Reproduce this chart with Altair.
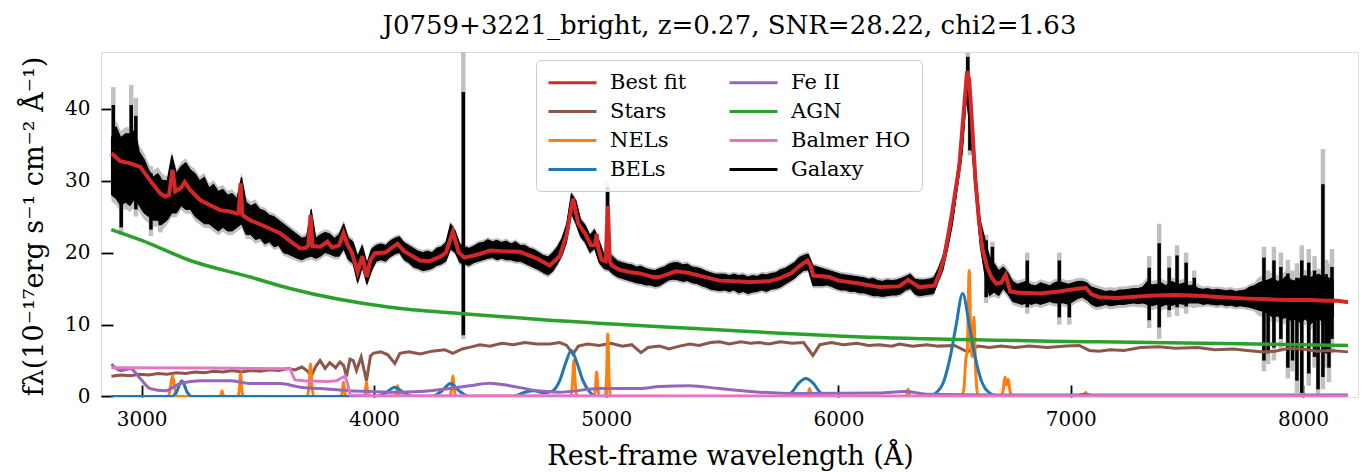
import altair as alt
import numpy as np
import pandas as pd

FONT = "DejaVu Serif"
TITLE = "J0759+3221_bright, z=0.27, SNR=28.22, chi2=1.63"
X_TITLE = "Rest-frame wavelength (Å)"
Y_TITLE = "fλ(10⁻¹⁷erg s⁻¹ cm⁻² Å⁻¹)"
X_TICKS = [3000, 4000, 5000, 6000, 7000, 8000]
Y_TICKS = [0, 10, 20, 30, 40]

COMPONENTS = ["Best fit", "Stars", "NELs", "BELs", "Fe II", "AGN", "Balmer HO", "Galaxy"]
COLORS = ["#d62728", "#8c564b", "#ff7f0e", "#1f77b4", "#9467bd", "#2ca02c", "#e377c2", "#000000"]

# ---- observed spectrum (Galaxy): upper / lower edge of the noisy trace, 20 A steps from 2870 A ----
GAL_START = 2870
GAL_STEP = 20
GAL_HI = [
    36.0, 37.5, 36.0, 36.5, 36.5, 37.0, 34.0, 33.0, 31.5, 30.5,
    31.0, 30.0, 30.0, 33.5, 31.0, 32.0, 32.5, 31.5, 31.0, 30.0,
    30.5, 29.0, 29.5, 28.5, 28.8, 28.0, 28.2, 27.5, 30.5, 27.0,
    26.5, 26.8, 26.0, 25.8, 25.2, 25.0, 24.5, 24.0, 23.5, 23.0,
    22.5, 22.0, 22.2, 26.0, 22.0, 22.5, 22.8, 22.6, 22.0, 22.5,
    24.0, 22.0, 21.5, 19.5, 21.0, 18.5, 20.5, 21.0, 21.2, 21.0,
    21.6, 22.0, 22.2, 21.4, 21.0, 20.6, 20.2, 20.0, 20.2, 20.0,
    20.6, 20.8, 21.4, 24.0, 23.0, 21.2, 20.8, 20.6, 20.9, 21.3,
    21.4, 21.8, 21.5, 21.7, 21.4, 21.6, 21.2, 21.5, 21.0, 21.0,
    20.6, 20.4, 20.0, 19.6, 19.4, 20.0, 20.8, 22.0, 24.0, 28.2,
    27.2, 24.6, 23.8, 22.4, 23.2, 21.6, 19.8, 20.0, 19.4, 18.8,
    18.6, 18.4, 18.3, 18.0, 18.1, 17.8, 17.6, 17.5, 17.8, 18.0,
    18.4, 18.6, 18.6, 18.3, 18.4, 18.0, 17.9, 17.7, 17.4, 17.2,
    17.0, 17.0, 17.0, 16.8, 17.0, 16.8, 16.9, 16.6, 16.8, 16.7,
    17.0, 16.9, 17.1, 17.2, 17.6, 17.8, 18.2, 18.6, 19.3, 19.6,
    19.8, 18.2, 18.0, 17.8, 17.6, 17.4, 17.2, 17.0, 16.9, 16.8,
    16.7, 16.6, 16.5, 16.3, 16.4, 16.1, 16.0, 16.2, 16.1, 16.2,
    16.4, 16.7, 17.0, 16.3, 16.2, 16.2, 16.3, 16.5, 17.8, 19.5,
    22.5, 26.0, 30.8, 35.5, 44.5, 41.0, 31.5, 24.5, 22.0, 19.5,
    18.5, 17.5, 18.0, 17.2, 16.0, 15.6, 15.8, 16.0, 15.5, 15.4,
    15.8, 15.6, 15.4, 15.8, 16.0, 15.8, 15.6, 15.8, 16.0, 16.0,
    15.8, 15.2, 15.0, 14.8, 14.6, 14.7, 14.6, 14.8, 14.8, 14.9,
    15.0, 15.0, 15.2, 16.0, 15.5, 15.6, 15.8, 15.4, 16.0, 15.8,
    15.6, 15.8, 15.4, 15.5, 15.0, 14.9, 15.0, 14.8, 14.9, 14.8,
    14.7, 14.8, 14.6, 14.7, 14.8, 15.2, 15.4, 15.8, 16.0, 16.2,
    16.5, 16.0, 16.2, 16.8, 16.2, 16.0, 16.5, 16.8, 16.5, 16.8,
    17.0, 16.5, 16.5, 16.0,
]
GAL_LO = [
    28.0, 27.5, 26.5, 27.0, 26.5, 27.5, 26.5, 25.5, 25.0, 24.5,
    24.5, 24.0, 24.5, 25.5, 25.5, 26.5, 26.0, 26.0, 25.0, 24.5,
    24.0, 24.0, 23.5, 23.0, 23.5, 23.0, 23.0, 23.5, 24.0, 22.5,
    22.5, 21.8, 22.0, 21.2, 21.5, 20.8, 21.0, 20.0, 19.8, 19.5,
    19.2, 19.0, 19.3, 19.5, 19.2, 19.5, 20.0, 19.8, 19.5, 19.5,
    20.5, 19.0, 18.5, 15.8, 18.0, 15.6, 17.5, 18.8, 19.0, 18.8,
    19.4, 19.8, 20.0, 19.0, 18.6, 18.0, 17.8, 17.5, 17.6, 17.8,
    18.2, 18.4, 18.8, 20.5, 20.0, 18.6, 18.4, 18.2, 18.6, 18.8,
    19.0, 19.2, 19.3, 19.0, 19.2, 19.0, 19.0, 18.8, 18.8, 18.5,
    18.2, 17.9, 17.6, 17.2, 16.9, 17.4, 18.4, 19.6, 21.5, 25.5,
    24.0, 22.2, 21.4, 20.0, 20.6, 18.6, 17.8, 17.6, 17.0, 16.6,
    16.4, 16.2, 16.0, 15.8, 15.7, 15.5, 15.5, 15.3, 15.4, 15.8,
    16.2, 16.3, 16.2, 16.0, 16.1, 15.8, 15.7, 15.4, 15.2, 14.9,
    14.8, 14.7, 14.8, 14.6, 14.8, 14.4, 14.6, 14.3, 14.5, 14.6,
    14.8, 14.6, 14.9, 15.0, 15.2, 15.6, 16.0, 16.4, 17.0, 17.5,
    17.6, 15.4, 15.4, 15.4, 15.5, 15.3, 15.0, 14.8, 14.8, 14.6,
    14.6, 14.4, 14.4, 14.2, 14.0, 14.0, 13.9, 14.0, 14.1, 14.1,
    14.3, 14.8, 15.0, 14.2, 14.0, 14.1, 14.2, 14.3, 16.0, 17.6,
    20.5, 23.8, 28.5, 33.0, 41.5, 36.5, 28.5, 21.0, 17.0, 14.0,
    14.5, 14.0, 15.0, 14.2, 13.2, 13.0, 12.8, 13.0, 12.8, 13.0,
    12.8, 13.0, 13.2, 13.0, 13.0, 13.0, 12.8, 13.2, 13.6, 13.8,
    13.4, 12.8, 12.5, 12.6, 12.8, 12.6, 12.7, 12.8, 12.8, 12.9,
    13.0, 12.9, 13.0, 12.8, 12.6, 12.8, 12.5, 12.8, 12.6, 12.8,
    12.9, 12.8, 13.0, 13.0, 13.0, 12.8, 12.9, 12.8, 12.7, 12.8,
    12.6, 12.7, 12.5, 12.6, 12.5, 12.4, 12.2, 12.0, 11.8, 11.5,
    11.0, 11.2, 10.8, 11.0, 10.5, 10.8, 10.2, 10.8, 10.0, 10.5,
    10.8, 10.2, 10.8, 11.0,
]
# flux uncertainty level per wavelength range (lower edges)
ERR_EDGES = [2870, 3100, 3500, 4000, 6450, 7300, 7560, 7800]
ERR_LEVELS = [0.9, 0.6, 0.45, 0.35, 0.5, 0.6, 0.4, 0.8]
# isolated galaxy pixels far off the trace: wave, flux low, flux high, error-bar low, error-bar high
SPIKES = [
    (2878, 28.5, 40.5, 27.5, 43.0), (2912, 23.5, 34.0, 22.5, 35.0),
    (2955, 27.0, 40.5, 26.0, 43.3), (2975, 26.0, 39.0, 25.0, 41.5),
    (3040, 23.2, 31.0, 22.3, 32.0), (3080, 23.8, 30.0, 22.8, 31.0),
    (4385, 8.5, 42.3, 8.0, 49.0), (5006, 18.0, 29.1, 17.5, 29.8),
    (6557, 42.0, 47.2, 41.0, 47.8), (6566, 34.2, 40.0, 33.5, 40.8),
    (6636, 13.8, 21.7, 13.0, 22.5), (6663, 14.5, 20.8, 13.8, 21.5),
    (6813, 12.4, 18.9, 11.5, 20.0), (6951, 11.0, 18.9, 10.0, 20.0),
    (6994, 11.0, 15.5, 10.0, 16.2), (7338, 10.6, 17.9, 9.5, 19.5),
    (7381, 9.6, 21.3, 8.0, 24.0), (7424, 12.0, 17.9, 11.0, 19.5),
    (7458, 12.4, 19.6, 11.2, 21.0), (7497, 12.5, 18.6, 11.5, 20.0),
    (7532, 13.0, 16.5, 12.3, 17.5), (7832, 5.0, 19.3, 3.5, 20.8),
    (7850, 6.0, 15.5, 4.5, 17.5), (7875, 6.8, 18.9, 5.0, 20.8),
    (7905, 8.0, 18.0, 6.5, 20.0), (7935, 4.0, 17.1, 2.5, 19.0),
    (7955, 5.0, 15.8, 3.5, 17.5), (7974, 2.2, 16.5, 0.5, 18.5),
    (7995, 0.5, 18.9, -0.5, 21.0), (8025, 3.2, 18.6, 1.5, 20.5),
    (8050, 5.5, 17.5, 4.0, 19.5), (8065, 1.0, 15.0, -0.5, 17.0),
    (8086, 2.7, 29.5, 1.0, 34.4), (8100, 6.0, 17.0, 4.0, 19.0),
    (8112, 4.0, 16.5, 2.0, 18.5), (8125, 8.0, 18.0, 6.0, 20.5),
]

# ---- best fit ----
FIT = [
    (2870, 33.8), (2908, 32.7), (2951, 32.4), (2994, 31.9), (3037, 30.0), (3080, 28.2),
    (3101, 27.8), (3118, 28.0), (3133, 31.5), (3145, 28.5), (3170, 29.0), (3185, 29.8),
    (3209, 28.7), (3252, 27.3), (3300, 26.5), (3338, 25.9), (3380, 25.7), (3411, 25.4),
    (3418, 25.5), (3426, 29.6), (3434, 25.2), (3467, 24.5), (3520, 23.8), (3560, 23.2),
    (3596, 22.7), (3640, 21.6), (3682, 20.6), (3705, 20.6), (3718, 21.0), (3727, 25.2),
    (3736, 20.9), (3768, 20.8), (3800, 21.5), (3820, 20.7), (3850, 21.0), (3869, 22.7),
    (3885, 21.2), (3905, 20.0), (3930, 17.3), (3950, 19.5), (3969, 16.6), (3985, 19.0),
    (4004, 19.9), (4050, 20.0), (4082, 20.8), (4102, 21.2), (4130, 20.2), (4198, 18.9),
    (4240, 18.8), (4284, 19.4), (4310, 20.0), (4340, 22.9), (4365, 20.0), (4390, 19.3),
    (4456, 19.8), (4500, 20.3), (4550, 20.2), (4628, 20.1), (4700, 19.2), (4757, 18.2),
    (4800, 19.5), (4830, 22.5), (4857, 27.5), (4880, 24.0), (4910, 22.6), (4935, 21.0),
    (4952, 21.0), (4959, 22.6), (4966, 20.6), (4980, 19.0), (4998, 18.8), (5007, 26.5),
    (5016, 18.8), (5025, 18.2), (5058, 17.6), (5100, 17.3), (5144, 17.1), (5200, 16.6),
    (5230, 16.6), (5300, 17.4), (5350, 17.2), (5402, 16.8), (5488, 16.1), (5550, 16.0),
    (5617, 15.9), (5700, 16.0), (5746, 16.4), (5800, 17.2), (5835, 18.2), (5867, 18.9),
    (5880, 18.2), (5892, 16.8), (5961, 16.6), (6000, 16.1), (6090, 15.7), (6176, 15.2),
    (6262, 15.3), (6300, 16.2), (6348, 15.2), (6413, 15.4), (6435, 17.1), (6456, 19.4),
    (6486, 24.9), (6520, 31.9), (6542, 40.5), (6554, 45.2), (6563, 44.0), (6575, 38.0),
    (6590, 30.0), (6605, 24.5), (6620, 20.5), (6640, 18.0), (6660, 16.5), (6679, 15.7),
    (6700, 15.8), (6720, 16.9), (6740, 14.6), (6780, 14.4), (6865, 14.3), (6950, 14.6),
    (7037, 15.0), (7065, 15.1), (7090, 14.2), (7123, 13.8), (7200, 13.7), (7338, 14.0),
    (7450, 14.1), (7548, 14.0), (7650, 13.8), (7766, 13.6), (7850, 13.5), (7938, 13.4),
    (8024, 13.4), (8100, 13.3), (8150, 13.3), (8194, 13.1),
]

STARS = [
    (2870, 2.8), (2910, 3.0), (2950, 2.9), (2990, 3.1), (3030, 3.0), (3070, 3.2), (3110, 3.1),
    (3150, 3.3), (3190, 3.2), (3230, 3.4), (3270, 3.3), (3310, 3.5), (3350, 3.4), (3390, 3.6),
    (3430, 3.4), (3470, 3.6), (3510, 3.5), (3550, 3.7), (3590, 3.6), (3630, 3.9), (3660, 3.7),
    (3690, 4.1), (3715, 3.5), (3730, 2.8), (3750, 4.2), (3768, 5.0), (3790, 3.9), (3810, 4.7),
    (3835, 4.0), (3854, 4.8), (3870, 4.3), (3882, 2.8), (3897, 5.2), (3911, 5.0), (3925, 3.6),
    (3945, 5.5), (3968, 2.2), (3985, 5.6), (3997, 6.0), (4030, 6.2), (4060, 5.8), (4090, 4.6),
    (4112, 6.0), (4150, 6.2), (4200, 5.9), (4250, 6.3), (4305, 6.5), (4340, 6.0), (4380, 6.6),
    (4420, 6.9), (4456, 7.2), (4500, 7.0), (4550, 7.4), (4600, 7.2), (4650, 7.5), (4700, 7.3),
    (4757, 7.3), (4800, 7.5), (4830, 7.1), (4857, 5.9), (4880, 7.0), (4920, 7.3), (4970, 7.1),
    (5020, 7.4), (5070, 7.0), (5110, 7.2), (5150, 6.1), (5180, 6.8), (5230, 7.0), (5270, 6.6),
    (5316, 7.0), (5360, 7.3), (5400, 7.1), (5450, 7.5), (5488, 7.6), (5530, 7.3), (5580, 7.6),
    (5620, 7.4), (5660, 7.5), (5700, 7.3), (5750, 7.6), (5800, 7.4), (5850, 7.5), (5890, 5.7),
    (5920, 7.2), (5970, 7.5), (6020, 7.2), (6080, 7.4), (6130, 7.1), (6176, 7.2), (6230, 7.0),
    (6262, 7.3), (6320, 7.0), (6380, 7.2), (6430, 7.0), (6500, 7.1), (6555, 6.2), (6600, 7.0),
    (6650, 6.8), (6700, 7.0), (6760, 6.8), (6820, 7.0), (6900, 6.8), (6980, 7.0), (7037, 7.1),
    (7080, 6.4), (7123, 6.3), (7170, 6.5), (7230, 6.4), (7300, 6.8), (7380, 6.9), (7450, 6.7),
    (7548, 6.8), (7620, 6.5), (7700, 6.6), (7760, 6.4), (7830, 6.2), (7880, 6.3), (7940, 6.7),
    (8000, 6.6), (8060, 6.3), (8120, 6.4), (8194, 6.2),
]

NELS = [
    (2870, 0.0),
    (3115, 0.0), (3125, 1.5), (3133, 2.9), (3141, 1.5), (3151, 0.0),
    (3336, 0.0), (3342, 0.3), (3346, 0.8), (3350, 0.3), (3356, 0.0),
    (3414, 0.0), (3421, 1.1), (3426, 3.2), (3431, 1.1), (3438, 0.0),
    (3713, 0.0), (3721, 1.6), (3727, 4.5), (3733, 1.6), (3741, 0.0),
    (3857, 0.0), (3864, 0.7), (3869, 2.0), (3874, 0.7), (3881, 0.0),
    (3956, 0.0), (3963, 0.7), (3968, 2.0), (3973, 0.7), (3980, 0.0),
    (4090, 0.0), (4097, 0.5), (4102, 1.5), (4107, 0.5), (4114, 0.0),
    (4326, 0.0), (4334, 1.0), (4340, 2.9), (4346, 1.0), (4354, 0.0),
    (4847, 0.0), (4855, 1.8), (4861, 5.0), (4867, 1.8), (4875, 0.0),
    (4947, 0.0), (4954, 1.2), (4959, 3.4), (4964, 1.2), (4971, 0.0),
    (4995, 0.0), (5002, 3.0), (5007, 8.7), (5012, 3.0), (5019, 0.0),
    (5864, 0.0), (5871, 0.4), (5876, 1.1), (5881, 0.4), (5888, 0.0),
    (6288, 0.0), (6295, 0.35), (6300, 1.0), (6305, 0.35), (6312, 0.0),
    (6530, 0.0), (6540, 1.0), (6548, 5.0), (6555, 6.5), (6563, 17.5), (6571, 6.5),
    (6577, 5.5), (6583, 11.0), (6591, 3.5), (6602, 0.0),
    (6700, 0.0), (6710, 1.0), (6717, 2.7), (6724, 1.6), (6731, 2.4), (6738, 0.9), (6748, 0.0),
    (7053, 0.0), (7060, 0.2), (7065, 0.6), (7070, 0.2), (7077, 0.0),
    (8194, 0.0),
]

BELS = [
    (2870, 0.0), (3130, 0.0), (3150, 0.6), (3173, 2.2), (3196, 0.6), (3215, 0.0),
    (4010, 0.0), (4050, 0.5), (4090, 1.3), (4130, 0.5), (4170, 0.0),
    (4250, 0.0), (4290, 0.7), (4330, 1.8), (4370, 0.7), (4410, 0.0),
    (4600, 0.0), (4650, 0.6), (4690, 0.8), (4730, 0.5), (4770, 0.8), (4800, 2.2),
    (4825, 4.6), (4850, 6.4), (4875, 4.6), (4900, 2.2), (4930, 0.6), (4960, 0.0),
    (5770, 0.0), (5800, 0.6), (5830, 1.9), (5860, 2.5), (5890, 1.9), (5920, 0.6), (5950, 0.0),
    (6390, 0.0), (6420, 0.5), (6450, 1.8), (6480, 5.3), (6505, 9.6), (6535, 14.3),
    (6565, 9.6), (6590, 5.3), (6620, 1.8), (6650, 0.5), (6690, 0.0),
    (7000, 0.0), (7060, 0.3), (7120, 0.0), (8194, 0.0),
]

FEII = [
    (2870, 4.5), (2908, 3.6), (2951, 3.85), (2994, 2.5), (3037, 1.1), (3101, 0.8), (3166, 1.8),
    (3252, 2.2), (3381, 2.2), (3467, 1.8), (3596, 1.8), (3682, 1.3), (3768, 1.1), (3854, 0.9),
    (3897, 0.8), (3983, 0.7), (4112, 0.6), (4241, 0.8), (4413, 1.5), (4499, 1.85), (4585, 1.5),
    (4714, 0.75), (4800, 0.6), (4972, 1.1), (5144, 1.1), (5230, 1.4), (5359, 1.5), (5488, 1.1),
    (5660, 0.6), (5832, 0.4), (6176, 0.5), (6284, 0.7), (6391, 0.3), (6692, 0.2), (8194, 0.2),
]

AGN = [
    (2869, 23.2), (3000, 21.7), (3209, 18.9), (3467, 16.6), (3639, 15.0), (4069, 12.4),
    (4383, 11.5), (4714, 10.7), (5402, 9.4), (6176, 8.2), (7123, 7.6), (8194, 7.1),
]

BALMER_HO = [
    (2870, 4.0), (3300, 3.95), (3640, 3.85), (3650, 3.0), (3660, 2.3), (3700, 2.2),
    (3800, 2.1), (3840, 2.2), (3862, 2.6), (3876, 2.8), (3888, 1.6), (3898, 0.2),
    (4000, 0.1), (8194, 0.05),
]

# ---------------- build tables ----------------
n = min(len(GAL_HI), len(GAL_LO))
gal_wave = [GAL_START + GAL_STEP * i for i in range(n)]
lvl = np.searchsorted(ERR_EDGES, gal_wave, side="right") - 1
gal = pd.DataFrame({"wave": gal_wave, "hi": GAL_HI[:n], "lo": GAL_LO[:n]})
gal["err"] = [ERR_LEVELS[k] for k in lvl]
gal["ghi"] = gal["hi"] + gal["err"]
gal["glo"] = gal["lo"] - gal["err"]
gal["flux"] = (gal["hi"] + gal["lo"]) / 2
gal["comp"] = "Galaxy"

spk = pd.DataFrame(SPIKES, columns=["wave", "lo", "hi", "glo", "ghi"])


def comp_df(pairs, name):
    return pd.DataFrame({"wave": [p[0] for p in pairs],
                         "flux": [p[1] for p in pairs],
                         "comp": name})


X_SCALE = alt.Scale(domain=[2825, 8237], nice=False, zero=False)
Y_SCALE = alt.Scale(domain=[-0.07, 47.87], nice=False, zero=False)
C_SCALE = alt.Scale(domain=COMPONENTS, range=COLORS)

LEGEND = alt.Legend(
    title=None, orient="none", legendX=435, legendY=8, columns=2,
    symbolType="M-2.4,0H2.4", symbolSize=400, symbolStrokeWidth=3, symbolOffset=14,
    labelFont=FONT, labelFontSize=21, labelColor="black", labelOffset=26,
    strokeColor="#cccccc", fillColor="rgba(255,255,255,0.85)", cornerRadius=5,
    padding=11, rowPadding=7, columnPadding=36,
)

x_axis_main = alt.Axis(values=X_TICKS, format="d", ticks=False, domain=False, grid=False,
                       labelFont=FONT, labelFontSize=20, labelColor="black", labelPadding=12,
                       title=X_TITLE, titleFont=FONT, titleFontSize=27, titleFontWeight="normal",
                       titleColor="black", titleX=629, titleY=67, titleAlign="center",
                       titleBaseline="alphabetic")
y_axis_main = alt.Axis(values=Y_TICKS, ticks=False, domain=False, grid=False,
                       labelFont=FONT, labelFontSize=20, labelColor="black", labelPadding=11,
                       title=Y_TITLE, titleFont=FONT, titleFontSize=27, titleFontWeight="normal",
                       titleColor="black", titleX=-67, titleY=174, titleAngle=270,
                       titleAlign="center", titleBaseline="middle")
x_axis_ticks = alt.Axis(orient="top", offset=-345, values=X_TICKS, labels=False, domain=False,
                        grid=False, tickSize=12, tickWidth=1.8, tickColor="black", title=None)
y_axis_ticks = alt.Axis(orient="right", offset=-1257, values=Y_TICKS, labels=False, domain=False,
                        grid=False, tickSize=12, tickWidth=1.8, tickColor="black", title=None)

GREY = "#c0c0c0"

grey_band = alt.Chart(gal).mark_area(color=GREY, clip=True).encode(
    x=alt.X("wave:Q", scale=X_SCALE, axis=x_axis_main),
    y=alt.Y("glo:Q", scale=Y_SCALE, axis=y_axis_main),
    y2="ghi:Q",
)
grey_spikes = alt.Chart(spk).mark_rule(color=GREY, strokeWidth=4.5, clip=True).encode(
    x=alt.X("wave:Q", scale=X_SCALE, axis=None),
    y=alt.Y("glo:Q", scale=Y_SCALE, axis=None),
    y2="ghi:Q",
)
black_band = alt.Chart(gal).mark_area(color="black", stroke="black", strokeWidth=1, clip=True).encode(
    x=alt.X("wave:Q", scale=X_SCALE, axis=None),
    y=alt.Y("lo:Q", scale=Y_SCALE, axis=None),
    y2="hi:Q",
)
black_spikes = alt.Chart(spk).mark_rule(color="black", strokeWidth=3.5, clip=True).encode(
    x=alt.X("wave:Q", scale=X_SCALE, axis=None),
    y=alt.Y("lo:Q", scale=Y_SCALE, axis=None),
    y2="hi:Q",
)


def line_layer(df, width, interp="linear", xaxis=None, yaxis=None):
    return alt.Chart(df).mark_line(strokeWidth=width, clip=True, interpolate=interp).encode(
        x=alt.X("wave:Q", scale=X_SCALE, axis=xaxis),
        y=alt.Y("flux:Q", scale=Y_SCALE, axis=yaxis),
        color=alt.Color("comp:N", scale=C_SCALE, legend=LEGEND),
    )


layers = [
    grey_band,
    grey_spikes,
    black_band,
    black_spikes,
    line_layer(gal, 3),
    line_layer(comp_df(FIT, "Best fit"), 4),
    line_layer(comp_df(STARS, "Stars"), 3),
    line_layer(comp_df(NELS, "NELs"), 3, "monotone"),
    line_layer(comp_df(BELS, "BELs"), 3, "monotone"),
    line_layer(comp_df(FEII, "Fe II"), 3, "monotone"),
    line_layer(comp_df(AGN, "AGN"), 3.5, "monotone", x_axis_ticks, y_axis_ticks),
    line_layer(comp_df(BALMER_HO, "Balmer HO"), 3, "linear"),
]

chart = alt.layer(*layers).resolve_axis(x="independent", y="independent").properties(
    width=1257, height=345,
    title=alt.Title(TITLE, font=FONT, fontSize=26, fontWeight="normal", color="black",
                    anchor="middle", frame="group", offset=19, dy=27, baseline="alphabetic"),
    padding={"left": 101, "top": 52, "right": 7, "bottom": 75},
    autosize=alt.AutoSizeParams(type="none"),
).configure_view(stroke="black", strokeWidth=1.5).configure(background="white")

chart.save("out.html", embed_options={"renderer": "svg", "actions": False})
